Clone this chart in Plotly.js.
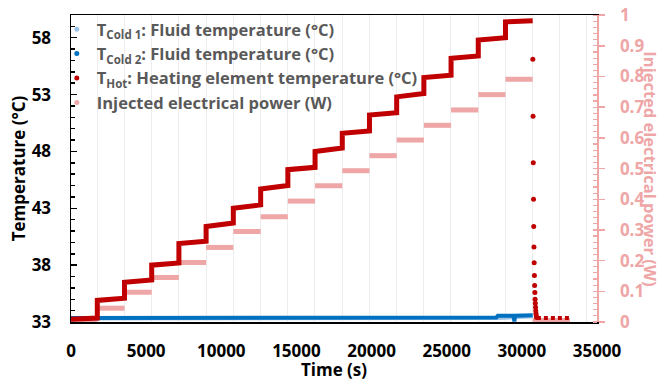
<!DOCTYPE html>
<html><head><meta charset="utf-8">
<script src="https://cdn.plot.ly/plotly-3.0.1.min.js"></script>
<style>body{margin:0;background:#fff;}#chart{width:661px;height:381px;}</style>
</head><body><div id="chart"></div>
<script>
// step boundaries (s)
const stepTimes = [0, 1750, 3560, 5370, 7180, 8990, 10800, 12620, 14430, 16240, 18050, 19860, 21670, 23480, 25290, 27100, 28910, 30720];
// heating element temperature at the start / end of each interval (°C)
const hotStart = [33.25, 34.9, 36.5, 38.0, 39.9, 41.4, 43.0, 44.7, 46.4, 48.0, 49.6, 51.2, 52.8, 54.5, 56.2, 57.8, 59.4];
const hotEnd   = [33.35, 35.1, 36.7, 38.2, 40.1, 41.7, 43.3, 45.0, 46.6, 48.3, 49.8, 51.4, 53.1, 54.7, 56.4, 58.0, 59.5];
// injected power per interval (W)
const powerLevels = [0.005, 0.045, 0.097, 0.145, 0.194, 0.243, 0.295, 0.343, 0.394, 0.444, 0.493, 0.542, 0.593, 0.641, 0.691, 0.741, 0.791];
const offTimes = [30720, 33200];
const offPower = [0.005, 0.005];
// cooling after power switched off
const decayTimes = [30730, 30745, 30760, 30775, 30790, 30805, 30820, 30835, 30850, 30865, 30880, 30895, 30910, 30925, 30940, 30960, 30980];
const decayTemps = [56.1, 51.1, 47.0, 43.8, 41.4, 39.6, 38.2, 37.1, 36.2, 35.6, 35.0, 34.65, 34.3, 34.0, 33.75, 33.55, 33.4];
const coolTimes = [31000, 33200];
const coolTemps = [33.35, 33.35];
// fluid temperatures
const cold1Times = [0, 15000, 28300, 30720];
const cold1Temps = [33.3, 33.3, 33.35, 33.5];
const cold2Times = [0, 10000, 20000, 28300, 28400, 29450, 29500, 29550, 30720];
const cold2Temps = [33.35, 33.38, 33.35, 33.4, 33.55, 33.55, 33.05, 33.55, 33.6];
// right axis tick labels
const powerTickVals = [0, 0.1, 0.2, 0.3, 0.4, 0.5, 0.6, 0.7, 0.8, 0.9, 1];
const powerTickText = ['0', '0.1', '0.2', '0.3', '0.4', '0.5', '0.6', '0.7', '0.8', '0.9', '1'];

const red = '#c00000', blue = '#0070c0', lblue = '#9dc3e6', pink = '#eea6a6';

const hotX = [], hotY = [];
for (let k = 0; k < hotStart.length; k++) {
  hotX.push(stepTimes[k], stepTimes[k + 1]);
  hotY.push(hotStart[k], hotEnd[k]);
}
const pX = [], pY = [];
for (let k = 0; k < powerLevels.length; k++) {
  pX.push(stepTimes[k], stepTimes[k + 1], null);
  pY.push(powerLevels[k], powerLevels[k], null);
}
pX.push(offTimes[0], offTimes[1]);
pY.push(offPower[0], offPower[1]);

const bold = {family: 'Open Sans', size: 17, color: 'black', weight: 'bold'};

const data = [
  {x: pX, y: pY, yaxis: 'y', mode: 'lines', line: {color: pink, width: 5}, showlegend: false, hoverinfo: 'skip'},
  {x: cold1Times, y: cold1Temps, yaxis: 'y2', mode: 'lines', line: {color: lblue, width: 4}, showlegend: false},
  {x: cold2Times, y: cold2Temps, yaxis: 'y2', mode: 'lines', line: {color: blue, width: 4}, showlegend: false},
  {x: hotX, y: hotY, yaxis: 'y2', mode: 'lines', line: {color: red, width: 5}, showlegend: false},
  {x: coolTimes, y: coolTemps, yaxis: 'y2', mode: 'lines', line: {color: red, width: 4, dash: '4px,3px'}, showlegend: false},
  {x: decayTimes, y: decayTemps, yaxis: 'y2', mode: 'markers', marker: {color: red, size: 5},
   name: 'T<sub>Hot</sub>: Heating element temperature (°C)', legendrank: 3},
  {x: [null], y: [null], yaxis: 'y2', mode: 'markers', marker: {color: lblue, size: 5},
   name: 'T<sub>Cold 1</sub>: Fluid temperature (°C)', legendrank: 1},
  {x: [null], y: [null], yaxis: 'y2', mode: 'markers', marker: {color: blue, size: 5},
   name: 'T<sub>Cold 2</sub>: Fluid temperature (°C)', legendrank: 2},
  {x: [null], y: [null], yaxis: 'y', mode: 'markers', marker: {color: pink, size: 5},
   name: 'Injected electrical power (W)', legendrank: 4}
];

const layout = {
  width: 661, height: 381,
  margin: {l: 71, r: 64, t: 12, b: 59},
  paper_bgcolor: 'white', plot_bgcolor: 'white',
  showlegend: true,
  legend: {x: -0.027, y: 1.01, xanchor: 'left', yanchor: 'top', bgcolor: 'rgba(0,0,0,0)',
           font: {family: 'Open Sans', size: 16.5, color: '#595959', weight: 'bold'},
           itemwidth: 30, tracegroupgap: 0, traceorder: 'normal'},
  xaxis: {range: [0, 35000], tick0: 0, dtick: 5000, showgrid: false, zeroline: false,
          showline: true, linecolor: 'black', linewidth: 1.5, mirror: true, ticks: '',
          tickfont: bold, tickformat: 'd', ticklabelstandoff: 13,
          minor: {tick0: 1750, dtick: 1810, showgrid: true, gridcolor: '#ededed', gridwidth: 1, ticks: ''},
          title: {text: 'Time (s)', font: bold, standoff: 1}},
  yaxis: {range: [0, 1.0005], side: 'right', tickmode: 'array', tickvals: powerTickVals, ticktext: powerTickText,
          showgrid: false, zeroline: false,
          showline: true, linecolor: pink, linewidth: 1.5,
          ticks: 'outside', ticklen: 6, tickwidth: 1.5, tickcolor: pink,
          minor: {tick0: 0, dtick: 0.02, ticks: 'inside', ticklen: 4, tickwidth: 1.2, tickcolor: pink},
          tickfont: {family: 'Open Sans', size: 17, color: pink, weight: 'bold'}, ticklabelstandoff: 12},
  yaxis2: {overlaying: 'y', side: 'left', range: [33, 60], tick0: 33, dtick: 5,
           showgrid: false, zeroline: false, showline: true, linecolor: 'black', linewidth: 1.5,
           ticks: 'inside', ticklen: 6, tickwidth: 1.5, tickcolor: 'black',
           minor: {dtick: 1, ticks: 'inside', ticklen: 4, tickwidth: 1.5, tickcolor: 'black'},
           tickfont: bold, ticklabelstandoff: 15,
           title: {text: 'Temperature (°C)', font: bold, standoff: 1}},
  annotations: [{text: 'Injected electrical power (W)', xref: 'paper', yref: 'paper', x: 1.101, y: 0.5,
                 textangle: 90, showarrow: false, xanchor: 'center', yanchor: 'middle',
                 font: {family: 'Open Sans', size: 16.5, color: pink, weight: 'bold'}}]
};

Plotly.newPlot('chart', data, layout, {displayModeBar: false, staticPlot: true});
</script>
</body></html>
